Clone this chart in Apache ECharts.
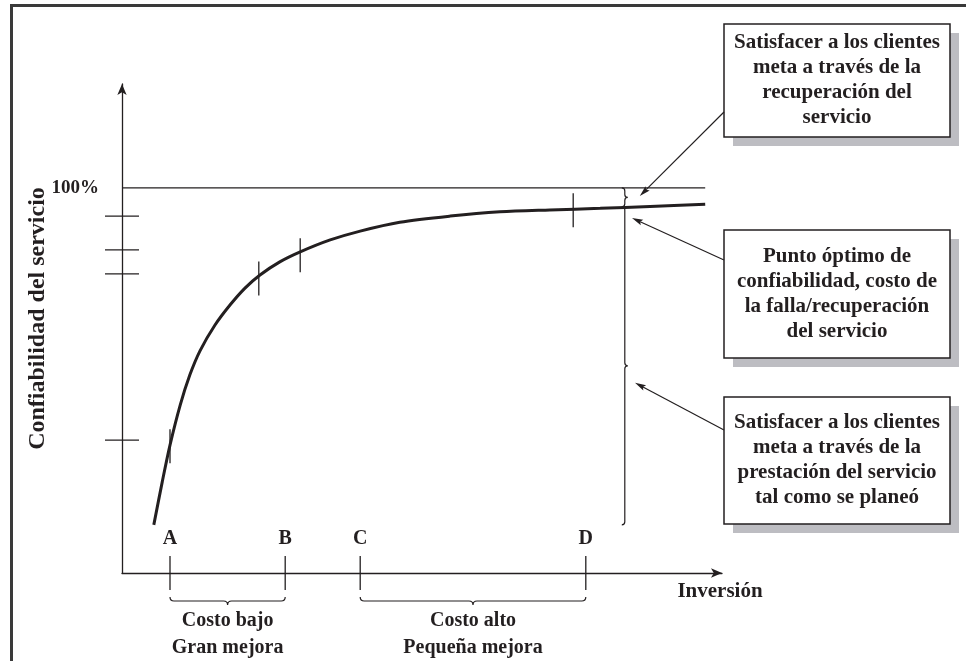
<!DOCTYPE html>
<html><head><meta charset="utf-8">
<script src="https://cdn.jsdelivr.net/npm/echarts@6/dist/echarts.min.js"></script>
<style>html,body{margin:0;padding:0;background:#fff}#c{width:966px;height:661px}</style>
</head><body><div id="c"></div>
<script>
// ---------- data ----------
const curveX = [5.3, 6.7, 8, 9.7, 11.3, 13, 15.5, 18, 20.5, 23, 26.3, 29.7, 34.7, 39.7, 46.3, 54.7, 63, 71.3, 79.7, 88, 97.2];
const curveY = [12.5, 23.6, 33.2, 43.6, 51.4, 57.7, 64.4, 69.6, 74.0, 77.4, 80.8, 83.4, 86.5, 88.8, 91.1, 92.7, 93.8, 94.3, 94.7, 95.2, 95.8];
const fullLevel = 100;
const yTickValues = [34.5, 77.7, 83.9, 92.7];
const pointNames = ['A', 'B', 'C', 'D'];
const pointX = [8.0, 27.2, 39.7, 77.3];
const curveTickX = [8.0, 22.8, 29.7, 75.2];
const curveTickY = [32.9, 76.5, 82.5, 94.2];
const rangeLabels = ['Costo bajo\nGran mejora', 'Costo alto\nPequeña mejora'];
const rangeFrom = [0, 2];
const rangeTo = [1, 3];
const optimumX = 83.8;
const optimumY = 95.1;
const braceBottomY = 12.5;
const calloutTexts = [
  'Satisfacer a los clientes\nmeta a través de la\nrecuperación del\nservicio',
  'Punto óptimo de\nconfiabilidad, costo de\nla falla/recuperación\ndel servicio',
  'Satisfacer a los clientes\nmeta a través de la\nprestación del servicio\ntal como se planeó'
];
const calloutTargetX = [86.3, 85.0, 85.5];
const calloutTargetY = [97.9, 92.2, 49.4];
const xAxisName = 'Inversión';
const yAxisName = 'Confiabilidad del servicio';

// ---------- styles / layout ----------
const INK = '#231f20';
const FONT = '"Liberation Serif", "DejaVu Serif", serif';
const boxLayout = [
  {x: 724, y: 24, w: 226, h: 113, arrowY: 112},
  {x: 724, y: 230, w: 226, h: 128, arrowY: 260},
  {x: 724, y: 397, w: 226, h: 127, arrowY: 430}
];

const chart = echarts.init(document.getElementById('c'), null, {renderer: 'canvas'});
const lineStyle = {stroke: INK, lineWidth: 1.3};
const boldText = (size) => ({fill: INK, fontFamily: FONT, fontWeight: 'bold', fontSize: size});

function vBracePath(x, y1, y2, w) {
  const ym = (y1 + y2) / 2;
  return 'M' + (x - w) + ' ' + y1 + ' Q' + x + ' ' + y1 + ' ' + x + ' ' + (y1 + w) +
    ' L' + x + ' ' + (ym - w) + ' Q' + x + ' ' + ym + ' ' + (x + w) + ' ' + ym +
    ' Q' + x + ' ' + ym + ' ' + x + ' ' + (ym + w) +
    ' L' + x + ' ' + (y2 - w) + ' Q' + x + ' ' + y2 + ' ' + (x - w) + ' ' + y2;
}
function hBracePath(x1, x2, y0, w) {
  const xm = (x1 + x2) / 2;
  return 'M' + x1 + ' ' + y0 + ' Q' + x1 + ' ' + (y0 + w) + ' ' + (x1 + w) + ' ' + (y0 + w) +
    ' L' + (xm - w) + ' ' + (y0 + w) + ' Q' + xm + ' ' + (y0 + w) + ' ' + xm + ' ' + (y0 + 2 * w) +
    ' Q' + xm + ' ' + (y0 + w) + ' ' + (xm + w) + ' ' + (y0 + w) +
    ' L' + (x2 - w) + ' ' + (y0 + w) + ' Q' + x2 + ' ' + (y0 + w) + ' ' + x2 + ' ' + y0;
}

const option = {
  animation: false,
  backgroundColor: '#ffffff',
  grid: {left: 122, top: 84, width: 600, height: 489},
  xAxis: {
    type: 'value', min: 0, max: 100,
    name: xAxisName, nameLocation: 'end', nameGap: -2,
    nameTextStyle: {color: INK, fontFamily: FONT, fontWeight: 'bold', fontSize: 21, align: 'center', verticalAlign: 'top', padding: [8, 0, 0, 0]},
    axisLine: {show: true, onZero: false, symbol: ['none', 'arrow'], symbolSize: [7, 11], lineStyle: {color: INK, width: 1.3}},
    axisTick: {show: false}, axisLabel: {show: false}, splitLine: {show: false}
  },
  yAxis: {
    type: 'value', min: 0, max: 127,
    name: yAxisName, nameLocation: 'middle', nameGap: 72, nameRotate: 90, nameMoveOverlap: false,
    nameTextStyle: {color: INK, fontFamily: FONT, fontWeight: 'bold', fontSize: 24, padding: [0, 0, 0, 20]},
    axisLine: {show: true, onZero: false, symbol: ['none', 'arrow'], symbolSize: [7, 11], lineStyle: {color: INK, width: 1.3}},
    axisTick: {show: false}, splitLine: {show: false},
    axisLabel: {show: true, customValues: [fullLevel], formatter: (v) => v + '%', margin: 23,
      color: INK, fontFamily: FONT, fontWeight: 'bold', fontSize: 19}
  },
  series: [
    {type: 'line', name: 'limite', silent: true, showSymbol: false,
      data: [[0, fullLevel], [curveX[curveX.length - 1], fullLevel]],
      lineStyle: {color: INK, width: 1.3}},
    {type: 'line', name: 'confiabilidad', silent: true, showSymbol: false, smooth: 0.3,
      data: curveX.map((x, i) => [x, curveY[i]]),
      lineStyle: {color: INK, width: 3}},
    {type: 'custom', name: 'yTicks', silent: true,
      data: yTickValues.map(v => [0, v]),
      renderItem: (params, api) => {
        const p = api.coord([api.value(0), api.value(1)]);
        return {type: 'line', shape: {x1: p[0] - 17, y1: p[1], x2: p[0] + 17, y2: p[1]}, style: lineStyle};
      }},
    {type: 'custom', name: 'curveTicks', silent: true,
      data: curveTickX.map((x, i) => [x, curveTickY[i]]),
      renderItem: (params, api) => {
        const p = api.coord([api.value(0), api.value(1)]);
        return {type: 'line', shape: {x1: p[0], y1: p[1] - 17, x2: p[0], y2: p[1] + 17}, style: lineStyle};
      }},
    {type: 'custom', name: 'points', silent: true,
      data: pointX.map((x, i) => [x, i]),
      renderItem: (params, api) => {
        const p = api.coord([api.value(0), 0]);
        return {type: 'group', children: [
          {type: 'line', shape: {x1: p[0], y1: p[1] - 17, x2: p[0], y2: p[1] + 17}, style: lineStyle},
          {type: 'text', x: p[0], y: p[1] - 34, style: Object.assign(boldText(20), {text: pointNames[api.value(1)], align: 'center', verticalAlign: 'middle'})}
        ]};
      }},
    {type: 'custom', name: 'ranges', silent: true,
      data: rangeLabels.map((l, i) => [pointX[rangeFrom[i]], pointX[rangeTo[i]], i]),
      renderItem: (params, api) => {
        const a = api.coord([api.value(0), 0]);
        const b = api.coord([api.value(1), 0]);
        return {type: 'group', children: [
          {type: 'path', shape: {pathData: hBracePath(a[0], b[0], a[1] + 24, 4)}, style: {stroke: INK, lineWidth: 1.2, fill: null}},
          {type: 'text', x: (a[0] + b[0]) / 2, y: a[1] + 61, style: Object.assign(boldText(20), {text: rangeLabels[api.value(2)], align: 'center', verticalAlign: 'middle', lineHeight: 27})}
        ]};
      }},
    {type: 'custom', name: 'optimo', silent: true,
      data: [[optimumX, fullLevel, optimumY], [optimumX, optimumY, braceBottomY]],
      renderItem: (params, api) => {
        const t = api.coord([api.value(0), api.value(1)]);
        const b = api.coord([api.value(0), api.value(2)]);
        return {type: 'path', shape: {pathData: vBracePath(t[0], t[1], b[1], 3)}, style: {stroke: INK, lineWidth: 1.2, fill: null}};
      }}
  ]
};
chart.setOption(option);

// ---------- callouts, arrows, frame ----------
const graphics = [
  {type: 'line', shape: {x1: 11.5, y1: 4, x2: 11.5, y2: 661}, style: {stroke: '#3a3a3a', lineWidth: 3}},
  {type: 'line', shape: {x1: 10, y1: 5.5, x2: 966, y2: 5.5}, style: {stroke: '#3a3a3a', lineWidth: 3}}
];
boxLayout.forEach((b, i) => {
  graphics.push({type: 'rect', shape: {x: b.x + 9, y: b.y + 9, width: b.w, height: b.h}, style: {fill: '#bdbdc2'}});
  graphics.push({type: 'rect', shape: {x: b.x, y: b.y, width: b.w, height: b.h}, style: {fill: '#fff', stroke: INK, lineWidth: 1.5}});
  graphics.push({type: 'text', x: b.x + b.w / 2, y: b.y + b.h / 2,
    style: Object.assign(boldText(21), {text: calloutTexts[i], align: 'center', verticalAlign: 'middle', lineHeight: 25})});
  const tip = chart.convertToPixel({gridIndex: 0}, [calloutTargetX[i], calloutTargetY[i]]);
  const tail = [b.x, b.arrowY];
  const dx = tip[0] - tail[0], dy = tip[1] - tail[1];
  const len = Math.sqrt(dx * dx + dy * dy);
  const ux = dx / len, uy = dy / len;
  const hl = 11, hw = 3;
  const base = [tip[0] - ux * hl, tip[1] - uy * hl];
  graphics.push({type: 'line', shape: {x1: tail[0], y1: tail[1], x2: base[0] + ux * 2, y2: base[1] + uy * 2}, style: {stroke: INK, lineWidth: 1.2}});
  graphics.push({type: 'polygon', shape: {points: [tip, [base[0] - uy * hw, base[1] + ux * hw], [base[0] + ux * 2, base[1] + uy * 2], [base[0] + uy * hw, base[1] - ux * hw]]}, style: {fill: INK}});
});
chart.setOption({graphic: graphics});
</script>
</body></html>
